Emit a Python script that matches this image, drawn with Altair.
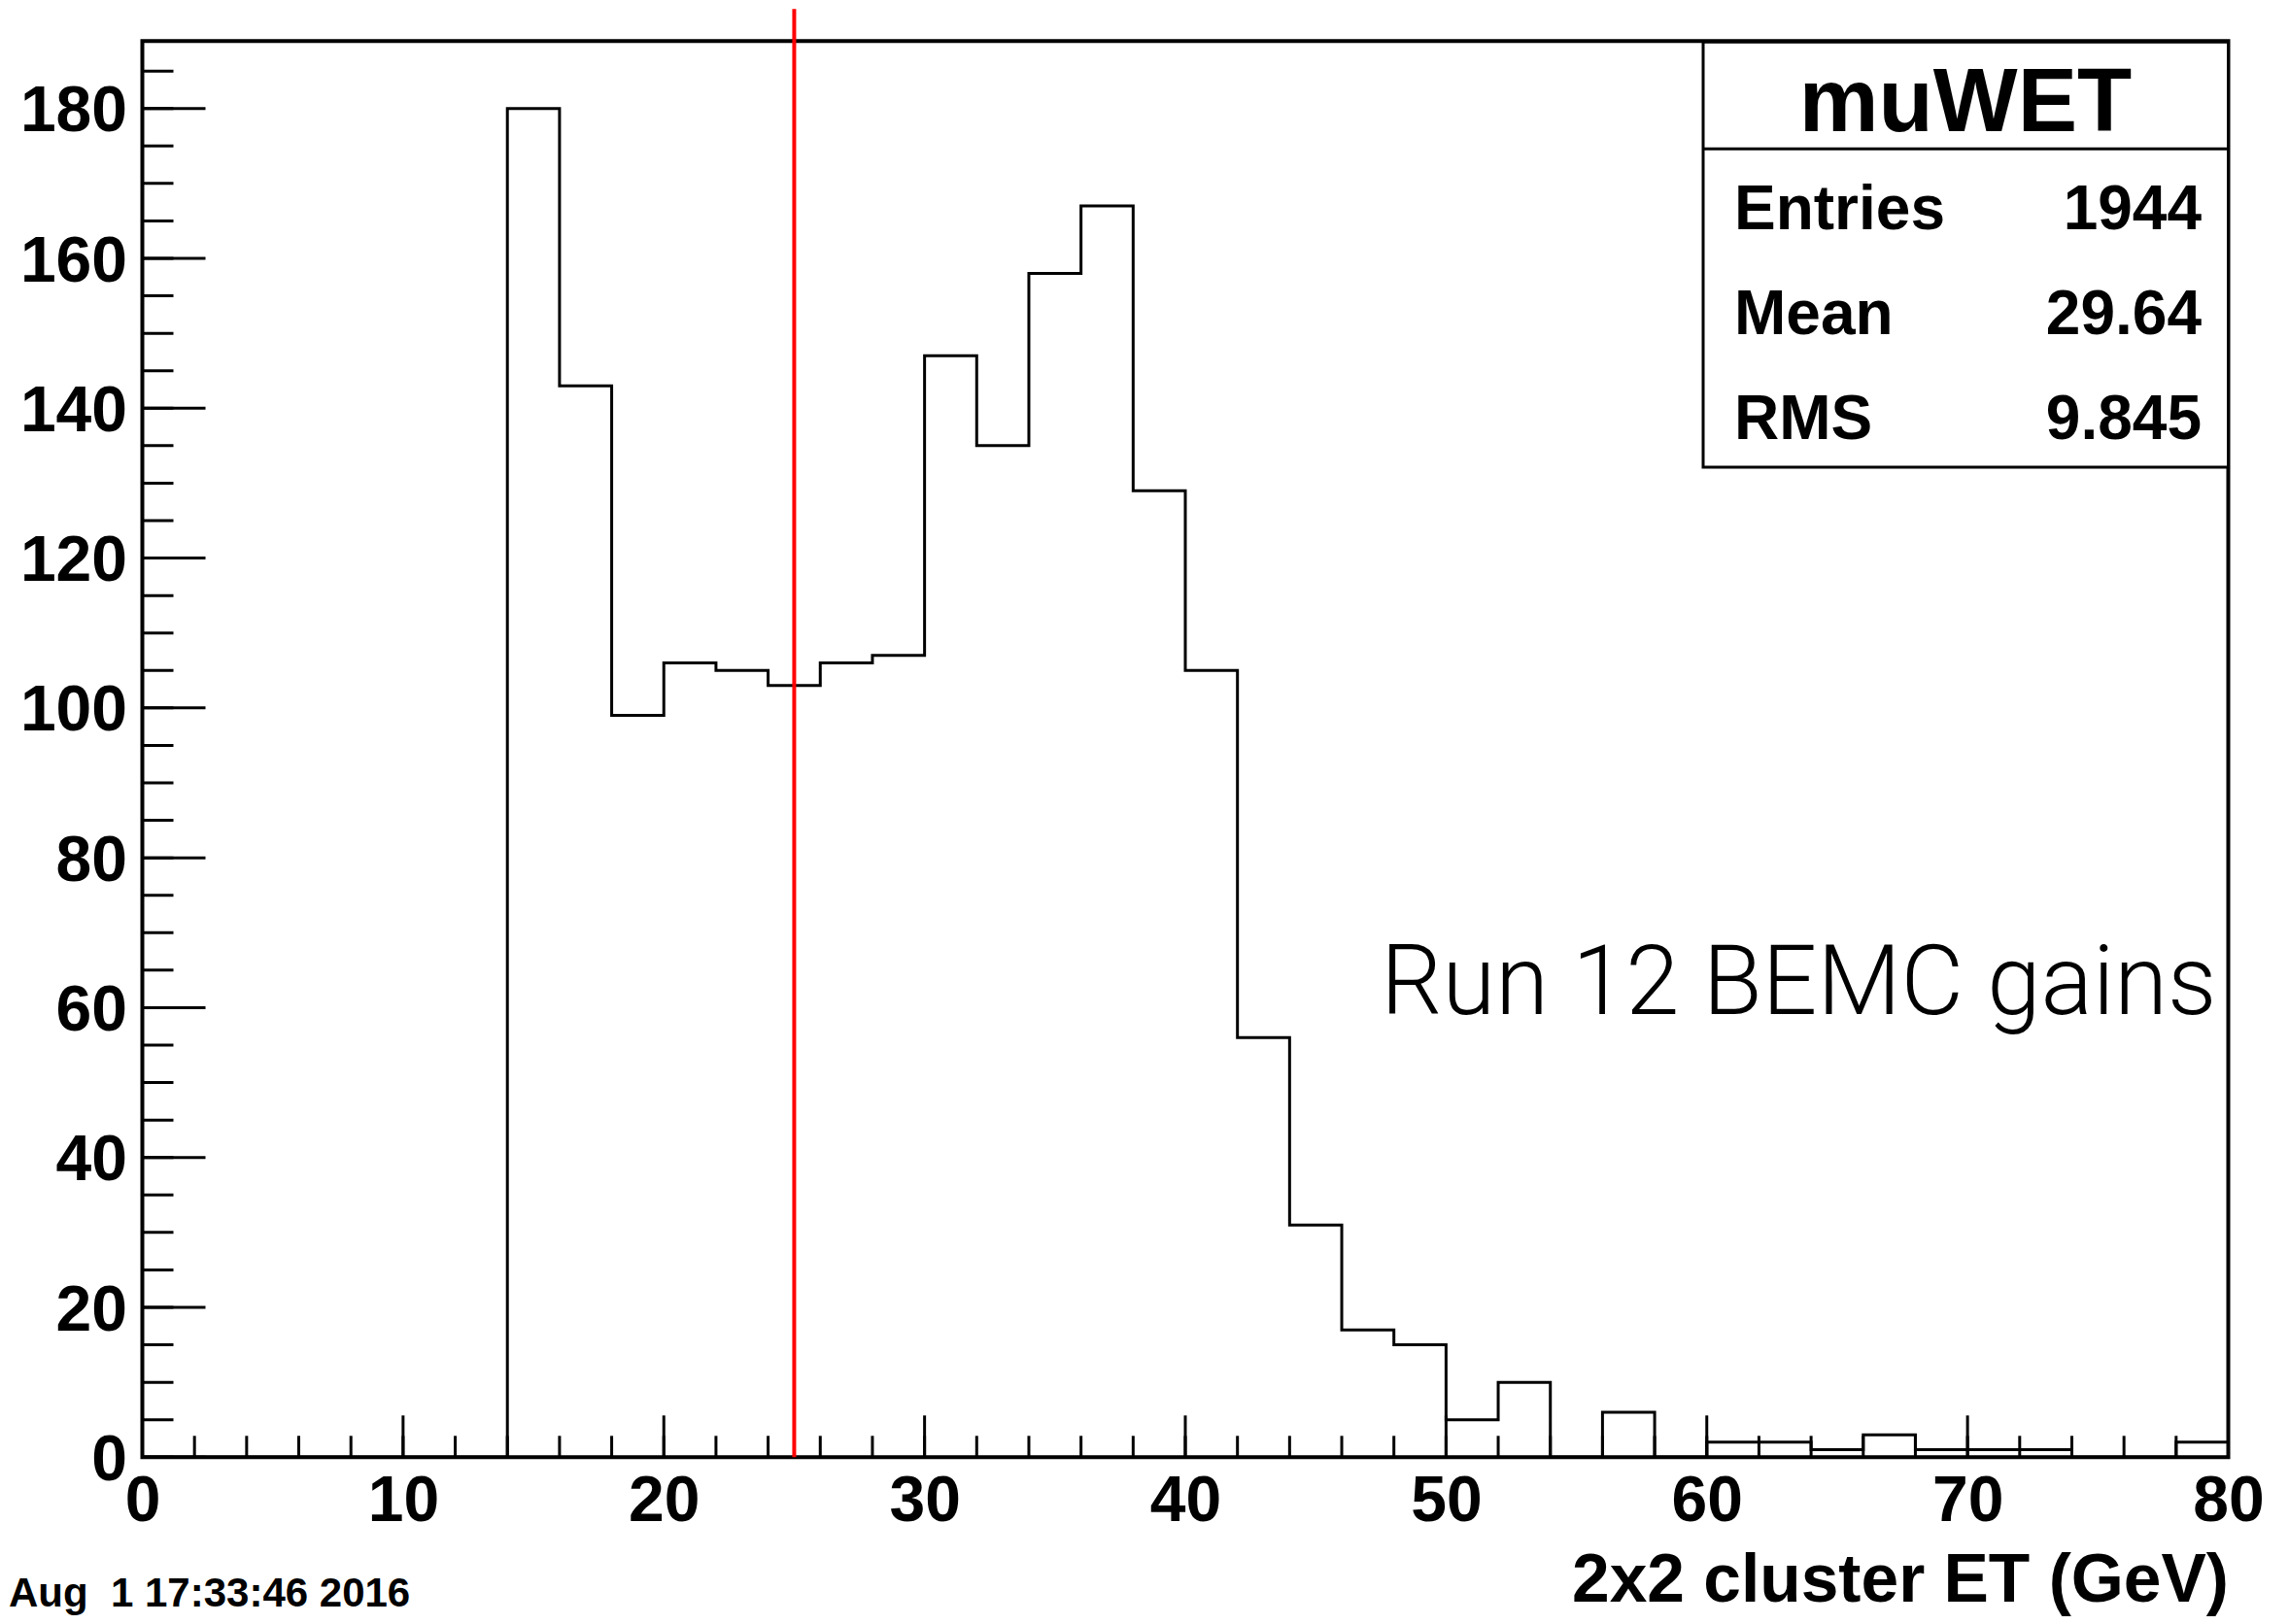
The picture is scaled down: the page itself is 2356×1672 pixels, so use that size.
import altair as alt
import pandas as pd

# ---------------- data ----------------
bin_edges = list(range(0, 82, 2))          # 0 .. 80, 2 GeV bins
counts = [0, 0, 0, 0, 0, 0, 0,
          180, 143, 99, 106, 105, 103, 106, 107,
          147, 135, 158, 167, 129, 105,
          56, 31, 17, 15, 5, 10,
          0, 6, 0,
          2, 2, 1, 3, 1, 1, 1,
          0, 0, 2]
x_major = [0, 10, 20, 30, 40, 50, 60, 70, 80]
x_minor = list(range(0, 82, 2))
y_major = [0, 20, 40, 60, 80, 100, 120, 140, 160, 180]
y_minor = list(range(0, 186, 5))
cut_value = [25]
cut_top = [193.3]
stat_title = "muWET"
stat_labels = ["Entries", "Mean", "RMS"]
stat_values = ["1944", "29.64", "9.845"]
note_text = "Run 12 BEMC gains"
x_title = "2x2 cluster ET (GeV)"
stamp_text = "Aug\u00a0 1 17:33:46 2016"

# ---------------- layout ----------------
W, H = 2147, 1458
FONT = "Liberation Sans"
x_scale = alt.Scale(domain=[0, 80], nice=False, zero=False)
y_scale = alt.Scale(domain=[0, 189], nice=False)

hist_df = pd.DataFrame({"edge": bin_edges, "count": counts + [counts[-1]]})

hist = alt.Chart(hist_df).mark_line(
    interpolate="step-after", color="black", strokeWidth=3
).encode(
    x=alt.X("edge:Q", scale=x_scale, axis=alt.Axis(
        values=x_major, ticks=False, domain=False, grid=False,
        labelFont=FONT, labelFontWeight="bold", labelFontSize=66,
        labelColor="black", labelPadding=13, labelFlush=False, labelOverlap=False,
        title=x_title, titleFont=FONT, titleFontWeight="bold", titleFontSize=69.5,
        titleColor="black", titleX=W, titleY=148, titleAlign="right",
        titleBaseline="alphabetic")),
    y=alt.Y("count:Q", scale=y_scale, axis=alt.Axis(
        values=y_major, ticks=False, domain=False, grid=False,
        labelFont=FONT, labelFontWeight="bold", labelFontSize=66,
        labelColor="black", labelPadding=16, labelOffset=3,
        labelFlush=False, labelOverlap=False, title=None)),
)

xminor = alt.Chart(pd.DataFrame({"edge": x_minor})).mark_rule(
    color="black", strokeWidth=3, y2Offset=-22
).encode(x=alt.X("edge:Q", scale=x_scale), y=alt.datum(0), y2=alt.datum(0))

xmajor = alt.Chart(pd.DataFrame({"edge": x_major})).mark_rule(
    color="black", strokeWidth=3, y2Offset=-43
).encode(x=alt.X("edge:Q", scale=x_scale), y=alt.datum(0), y2=alt.datum(0))

yminor = alt.Chart(pd.DataFrame({"count": y_minor})).mark_rule(
    color="black", strokeWidth=3, x2Offset=32
).encode(y=alt.Y("count:Q", scale=y_scale), x=alt.datum(0), x2=alt.datum(0))

ymajor = alt.Chart(pd.DataFrame({"count": y_major})).mark_rule(
    color="black", strokeWidth=3, x2Offset=65
).encode(y=alt.Y("count:Q", scale=y_scale), x=alt.datum(0), x2=alt.datum(0))

cut = alt.Chart(pd.DataFrame({"edge": cut_value, "y0": [0], "y1": cut_top})).mark_rule(
    color="#ff0000", strokeWidth=4
).encode(x=alt.X("edge:Q", scale=x_scale), y=alt.Y("y0:Q", scale=y_scale), y2="y1:Q")

one = pd.DataFrame({"k": [0]})

note = alt.Chart(one).mark_text(
    text=note_text, align="right", baseline="alphabetic",
    font="Roboto", fontWeight=300, fontSize=99.5, color="black"
).encode(x=alt.datum(79.55), y=alt.datum(59.2))

box_x0, box_x1 = 1606.5, W
box = alt.Chart(one).mark_rect(fill="white", stroke="black", strokeWidth=3).encode(
    x=alt.value(box_x0), x2=alt.value(box_x1), y=alt.value(1), y2=alt.value(438.7))
box_sep = alt.Chart(one).mark_rule(color="black", strokeWidth=3).encode(
    x=alt.value(box_x0), x2=alt.value(box_x1), y=alt.value(111))
box_title = alt.Chart(one).mark_text(
    text=stat_title, align="center", baseline="alphabetic",
    font=FONT, fontWeight="bold", fontSize=92, color="black"
).encode(x=alt.value(1876.5), y=alt.value(92.7))

stat_layers = []
for i, (lab, val) in enumerate(zip(stat_labels, stat_values)):
    yy = 193.7 + 108 * i
    stat_layers.append(alt.Chart(one).mark_text(
        text=lab, align="left", baseline="alphabetic",
        font=FONT, fontWeight="bold", fontSize=64, color="black"
    ).encode(x=alt.value(1638.5), y=alt.value(yy)))
    stat_layers.append(alt.Chart(one).mark_text(
        text=val, align="right", baseline="alphabetic",
        font=FONT, fontWeight="bold", fontSize=64, color="black"
    ).encode(x=alt.value(2119.5), y=alt.value(yy)))

stamp = alt.Chart(one).mark_text(
    text=stamp_text, align="left", baseline="alphabetic",
    font=FONT, fontWeight="bold", fontSize=42, color="black"
).encode(x=alt.value(-137.5), y=alt.value(1611.7))

chart = alt.layer(
    hist, xminor, xmajor, yminor, ymajor, cut, note,
    box, box_sep, box_title, *stat_layers, stamp
).properties(
    width=W, height=H,
    autosize=alt.AutoSizeParams(type="none"),
    padding={"left": 138.5, "top": 34.3, "right": 54.5, "bottom": 163.7},
    background="white",
).configure_view(stroke="black", strokeWidth=4)

chart.save("out.html", embed_options={"renderer": "svg", "actions": False})
